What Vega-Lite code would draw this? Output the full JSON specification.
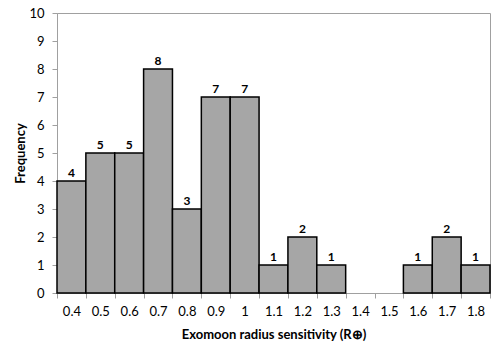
{
  "$schema": "https://vega.github.io/schema/vega-lite/v6.json",
  "autosize": {"type": "none"},
  "width": 433,
  "height": 280,
  "padding": {"left": 57, "top": 13, "right": 10, "bottom": 58},
  "background": "white",
  "config": {
    "view": {"stroke": "#a0a0a0", "strokeWidth": 1},
    "font": "Lato"
  },
  "data": {
    "values": [
      {"radius": "0.4", "count": 4},
      {"radius": "0.5", "count": 5},
      {"radius": "0.6", "count": 5},
      {"radius": "0.7", "count": 8},
      {"radius": "0.8", "count": 3},
      {"radius": "0.9", "count": 7},
      {"radius": "1", "count": 7},
      {"radius": "1.1", "count": 1},
      {"radius": "1.2", "count": 2},
      {"radius": "1.3", "count": 1},
      {"radius": "1.4", "count": 0},
      {"radius": "1.5", "count": 0},
      {"radius": "1.6", "count": 1},
      {"radius": "1.7", "count": 2},
      {"radius": "1.8", "count": 1}
    ]
  },
  "encoding": {
    "x": {
      "field": "radius",
      "type": "ordinal",
      "sort": null,
      "scale": {"domain": ["0.4","0.5","0.6","0.7","0.8","0.9","1","1.1","1.2","1.3","1.4","1.5","1.6","1.7","1.8"], "paddingInner": 0, "paddingOuter": 0},
      "axis": {
        "title": "Exomoon radius sensitivity (R⊕)",
        "titleFont": "Lato",
        "titleFontSize": 13,
        "titleFontWeight": "bold",
        "titleColor": "black",
        "titlePadding": 10,
        "labelAngle": 0,
        "labelFont": "Lato",
        "labelFontSize": 13,
        "labelColor": "black",
        "labelPadding": 7,
        "tickBand": "extent",
        "tickSize": 5,
        "tickColor": "#a0a0a0",
        "domainColor": "#a0a0a0",
        "grid": false
      }
    },
    "y": {
      "field": "count",
      "type": "quantitative",
      "scale": {"domain": [0, 10], "nice": false},
      "axis": {
        "title": "Frequency",
        "titleFont": "Lato",
        "titleFontSize": 13,
        "titleFontWeight": "bold",
        "titleColor": "black",
        "titlePadding": 1,
        "values": [0,1,2,3,4,5,6,7,8,9,10],
        "labelFont": "Lato",
        "labelFontSize": 13,
        "labelColor": "black",
        "labelPadding": 8,
        "tickSize": 5,
        "tickColor": "#a0a0a0",
        "domainColor": "#a0a0a0",
        "grid": false
      }
    }
  },
  "layer": [
    {
      "transform": [{"filter": "datum.count > 0"}],
      "mark": {"type": "bar", "fill": "#a6a6a6", "stroke": "black", "strokeWidth": 1.5}
    },
    {
      "transform": [{"filter": "datum.count > 0"}],
      "mark": {"type": "text", "dy": -8, "fontSize": 12, "font": "Lato", "fontWeight": "bold", "color": "black"},
      "encoding": {"text": {"field": "count", "type": "quantitative"}}
    }
  ]
}
